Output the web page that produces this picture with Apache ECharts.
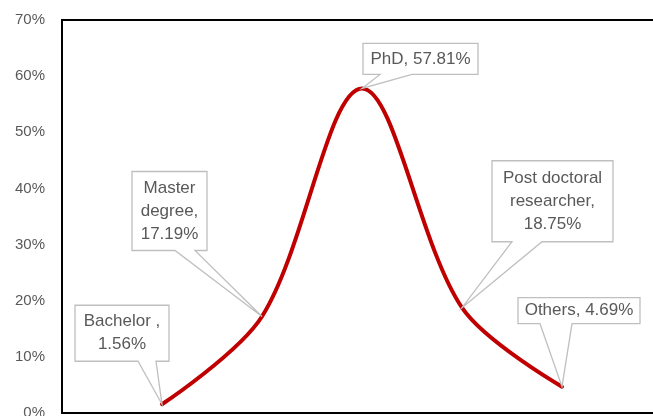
<!DOCTYPE html>
<html>
<head>
<meta charset="utf-8">
<script src="https://cdn.jsdelivr.net/npm/echarts@6/dist/echarts.min.js"></script>
<style>html,body{margin:0;padding:0;background:#fff}#c{width:653px;height:416px}</style>
</head>
<body>
<div id="c"></div>
<script>
// Data
var categories = ['Bachelor ', 'Master degree', 'PhD', 'Post doctoral researcher', 'Others'];
var values = [1.56, 17.19, 57.81, 18.75, 4.69];
var labelTexts = ['Bachelor ,\n1.56%', 'Master\ndegree,\n17.19%', 'PhD, 57.81%', 'Post doctoral\nresearcher,\n18.75%', 'Others, 4.69%'];
var yTicks = [0, 10, 20, 30, 40, 50, 60, 70];

// Callout box layout (offsets relative to the data point, pixels): [x0, x1, y0, y1, wedge0, wedge1]
var calloutLayout = [
  [-87, 7, -99, -43, -24, -6],
  [-130, -55, -145, -66, -87, -67],
  [1, 116, -45, -14, 18, 50],
  [30, 151, -147, -66, 50, 80],
  [-44, 78, -89, -63, -22, 10]
];

var lineData = values.map(function (v, i) { return [i + 1, v]; });
var calloutData = values.map(function (v, i) { return [i + 1, v, i]; });

var chart = echarts.init(document.getElementById('c'), null, {renderer: 'canvas'});
chart.setOption({
  animation: false,
  grid: {left: 62, top: 20, width: 600, height: 393, containLabel: false, outerBoundsMode: 'none',
         show: true, borderColor: '#000', borderWidth: 2, backgroundColor: 'transparent'},
  xAxis: {type: 'value', min: 0, max: 6, show: false},
  yAxis: {
    type: 'value', min: 0, max: 70, interval: 10,
    axisLine: {show: false}, axisTick: {show: false}, splitLine: {show: false},
    axisLabel: {formatter: '{value}%', color: '#595959', fontSize: 15, fontFamily: 'Liberation Sans, Arial, sans-serif', margin: 17}
  },
  series: [
    {
      type: 'line', data: lineData, smooth: 0.33, showSymbol: false,
      lineStyle: {color: '#C00000', width: 4, cap: 'round'}, z: 2
    },
    {
      type: 'custom', data: calloutData, z: 5, clip: false,
      renderItem: function (params, api) {
        var i = api.value(2);
        var p = api.coord([api.value(0), api.value(1)]);
        var L = calloutLayout[i];
        var x0 = p[0] + L[0], x1 = p[0] + L[1], y0 = p[1] + L[2], y1 = p[1] + L[3];
        var w0 = p[0] + L[4], w1 = p[0] + L[5];
        return {
          type: 'group',
          children: [
            {
              type: 'polygon',
              shape: {points: [[x0, y0], [x1, y0], [x1, y1], [w1, y1], [p[0], p[1]], [w0, y1], [x0, y1]]},
              style: {fill: '#fff', stroke: '#BFBFBF', lineWidth: 1.3}
            },
            {
              type: 'text',
              style: {
                text: labelTexts[i], x: (x0 + x1) / 2, y: (y0 + y1) / 2,
                align: 'center', verticalAlign: 'middle',
                fill: '#595959', fontSize: 17, lineHeight: 23,
                fontFamily: 'Liberation Sans, Arial, sans-serif'
              }
            }
          ]
        };
      }
    }
  ]
});
</script>
</body>
</html>
